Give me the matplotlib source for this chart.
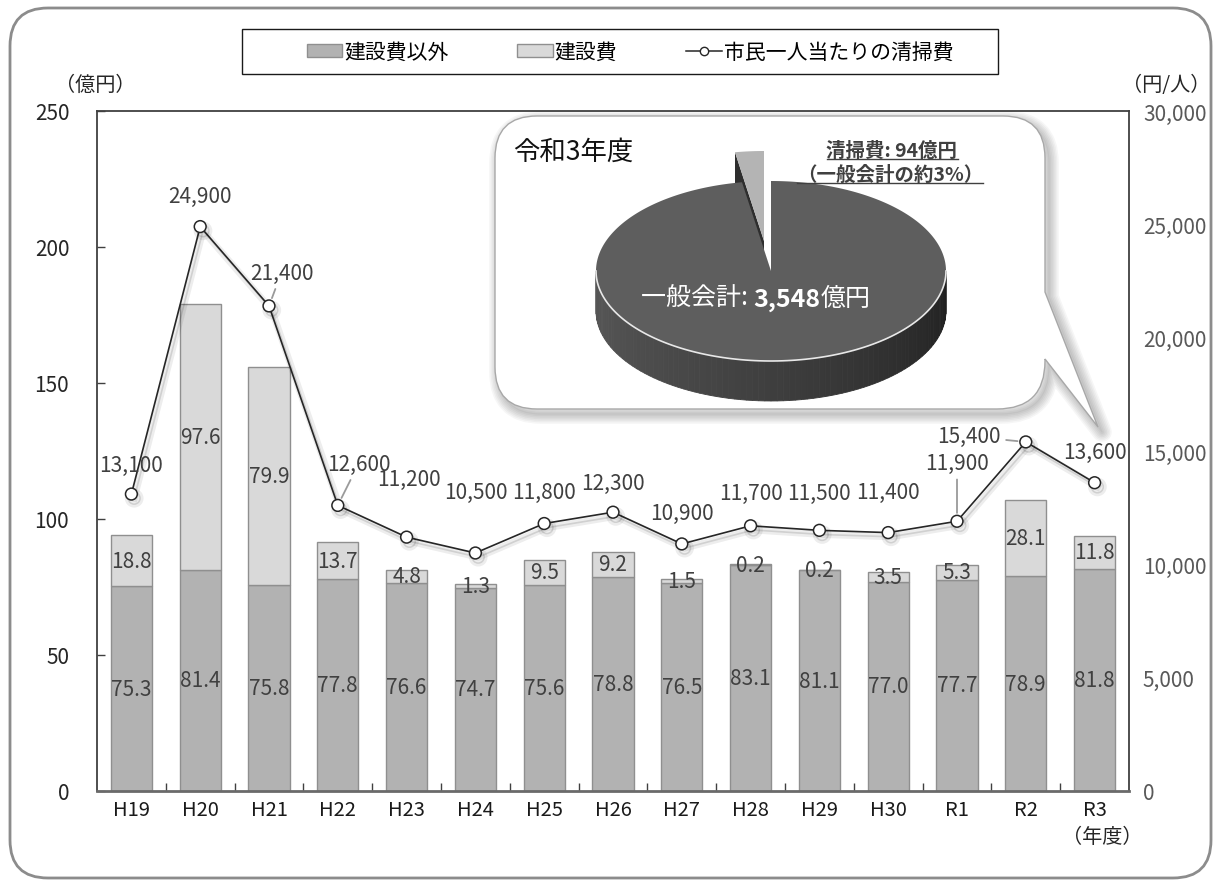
import numpy as np
import matplotlib
matplotlib.use('Agg')
import matplotlib.pyplot as plt
import matplotlib.patheffects as pe
from matplotlib.path import Path
from matplotlib.patches import PathPatch, Polygon, Rectangle, Patch
from matplotlib.lines import Line2D
from matplotlib.ticker import FuncFormatter

plt.rcParams['font.family'] = ['Noto Sans CJK JP', 'DejaVu Sans']

#-------------------------------------------------------------------------------
# data
#-------------------------------------------------------------------------------
years = ['H19', 'H20', 'H21', 'H22', 'H23', 'H24', 'H25', 'H26', 'H27',
         'H28', 'H29', 'H30', 'R1', 'R2', 'R3']
other_cost = [75.3, 81.4, 75.8, 77.8, 76.6, 74.7, 75.6, 78.8, 76.5,
              83.1, 81.1, 77.0, 77.7, 78.9, 81.8]
construction = [18.8, 97.6, 79.9, 13.7, 4.8, 1.3, 9.5, 9.2, 1.5,
                0.2, 0.2, 3.5, 5.3, 28.1, 11.8]
per_capita = [13100, 24900, 21400, 12600, 11200, 10500, 11800, 12300, 10900,
              11700, 11500, 11400, 11900, 15400, 13600]

general_account = 3548   # 億円
cleaning_cost = 94       # 億円

# label offsets for the per-capita line (points), and which get a leader line
label_dx = [0, 0, 9, 15, 2, 0, 0, 0, 0, 0, 0, 0, 0, -41, 0]
label_dy = [21, 22, 24, 30, 42, 44, 23, 21, 22, 24, 27, 29, 42, 4, 22]
leader = [False, False, True, True, False, False, False, False, False,
          False, False, False, True, True, False]

W, H = 1219, 887
fig = plt.figure(figsize=(W / 100, H / 100), dpi=100)
fig.patch.set_facecolor('white')

ax = fig.add_axes([97 / W, 1 - 792 / H, (1129 - 97) / W, (792 - 112) / H])
ax2 = ax.twinx()

x = np.arange(len(years))
dark_bar = '#b2b2b2'
light_bar = '#d9d9d9'
txt = '#404040'

b1 = ax.bar(x, other_cost, 0.6, color=dark_bar, edgecolor='#8f8f8f', lw=1, zorder=2)
b2 = ax.bar(x, construction, 0.6, bottom=other_cost, color=light_bar,
            edgecolor='#8f8f8f', lw=1, zorder=2)
ax.bar_label(b1, fmt='%.1f', label_type='center', color=txt, fontsize=15)
ax.bar_label(b2, fmt='%.1f', label_type='center', color=txt, fontsize=15)

ax.set_xlim(-0.5, len(years) - 0.5)
ax.set_ylim(0, 250)
ax.set_yticks(np.arange(0, 251, 50))
ax.set_xticks(x)
ax.set_xticklabels(years)
ax.set_xticks(np.arange(0.5, len(years) - 1, 1), minor=True)
ax.tick_params(axis='x', which='major', length=0, pad=6, labelsize=14.5, colors='#1a1a1a')
ax.tick_params(axis='x', which='minor', direction='in', length=6, width=1, color='#404040')
ax.tick_params(axis='y', direction='in', length=6, width=1, color='#404040',
               pad=20, labelsize=15, labelcolor='#262626')
for s in ['left', 'top', 'right']:
    ax.spines[s].set_color('#404040')
    ax.spines[s].set_linewidth(1.3)
ax.spines['bottom'].set_color('#6a6a6a')
ax.spines['bottom'].set_linewidth(2)

# per-capita cleaning cost line
shadow = [pe.SimpleLineShadow(offset=(2, -3), alpha=0.07, linewidth=5),
          pe.SimpleLineShadow(offset=(2, -3), alpha=0.12), pe.Normal()]
ax2.plot(x, per_capita, color='#262626', lw=1.2, marker='o', ms=8.5,
         mfc='white', mec='#262626', mew=1.1, path_effects=shadow, zorder=3)
ax2.set_ylim(0, 30000)
ax2.set_yticks(np.arange(0, 30001, 5000))
ax2.yaxis.set_major_formatter(FuncFormatter(lambda v, p: f'{int(v):,}'))
ax2.tick_params(axis='y', length=0, pad=10, labelsize=15, labelcolor='#595959')
for s in ax2.spines.values():
    s.set_visible(False)

for i, v in enumerate(per_capita):
    props = None
    if leader[i]:
        props = dict(arrowstyle='-', color='#9a9a9a', lw=1.3, shrinkA=2, shrinkB=6)
    ax2.annotate(f'{v:,}', xy=(x[i], v), xytext=(label_dx[i], label_dy[i]),
                 textcoords='offset points', ha='center', va='center',
                 fontsize=15, color=txt, arrowprops=props)

#-------------------------------------------------------------------------------
# overlay in pixel coordinates: frame, legend box, callout with pie
#-------------------------------------------------------------------------------
ov = fig.add_axes([0, 0, 1, 1], zorder=5)
ov.set_xlim(0, W)
ov.set_ylim(H, 0)
ov.axis('off')
ov.patch.set_alpha(0)


def rounded_path(corners, radii):
    verts, codes = [], []
    n = len(corners)
    for i in range(n):
        p = np.array(corners[i], float)
        a = np.array(corners[i - 1], float)
        b = np.array(corners[(i + 1) % n], float)
        u = (a - p) / np.linalg.norm(a - p)
        w = (b - p) / np.linalg.norm(b - p)
        verts += [p + u * radii[i], p, p + w * radii[i]]
        codes += [Path.LINETO, Path.CURVE3, Path.CURVE3]
    codes[0] = Path.MOVETO
    verts.append(verts[0])
    codes.append(Path.CLOSEPOLY)
    return Path(verts, codes)


# outer frame
ov.add_patch(PathPatch(rounded_path([(10, 9), (1211, 9), (1211, 879), (10, 879)],
                                    [38, 38, 38, 38]),
                       fc='none', ec='#8c8c8c', lw=2))

# legend
ov.add_patch(Rectangle((242, 30), 756, 45, fc='white', ec='#1a1a1a', lw=1))
handles = [Patch(fc=dark_bar, ec='#8f8f8f'), Patch(fc=light_bar, ec='#8f8f8f'),
           Line2D([], [], color='#262626', lw=1.1, marker='o', ms=6,
                  mfc='white', mec='#262626')]
fig.legend(handles, ['建設費以外', '建設費', '市民一人当たりの清掃費'],
           loc='center', bbox_to_anchor=(630 / W, 1 - 53 / H), ncol=3,
           frameon=False, prop={'size': 15, 'weight': 'normal'},
           handlelength=1.7, handleheight=0.55,
           handletextpad=0.1, columnspacing=3.3)

# unit labels
ov.text(95, 85, '（億円）', ha='center', va='center', fontsize=14.5, color='#262626')
ov.text(1166, 85, '（円/人）', ha='center', va='center', fontsize=14.5, color='#262626')
ov.text(1102, 838, '（年度）', ha='center', va='center', fontsize=14.5, color='#262626')

# callout box with tail
callout = rounded_path([(495, 117), (1045, 117), (1045, 293), (1098, 428),
                        (1045, 360), (1045, 410), (495, 410)],
                       [42, 42, 0, 0, 0, 48, 42])
for k in range(7):
    sh = callout.transformed(matplotlib.transforms.Affine2D().translate(4, 5))
    ov.add_patch(PathPatch(sh, fc='none', ec='black', lw=1 + 2.2 * k, alpha=0.035,
                           joinstyle='round', zorder=1))
ov.add_patch(PathPatch(callout, fc='white', ec='#a8a8a8', lw=1, zorder=2))

ov.text(513, 152, '令和3年度', ha='left', va='center', fontsize=19, color='#111111', zorder=6)

# 3D pie
cx, cy, rx, ry, depth = 771, 272, 175, 90, 40
sweep = 360 * cleaning_cost / general_account


def ell(t_deg, dx=0, dy=0):
    t = np.radians(t_deg)
    return np.column_stack([cx + dx + rx * np.cos(t), cy + dy - ry * np.sin(t)])


# exploded cleaning-cost wedge (behind the main body)
wdx, wdy = -7, -30
tw = np.linspace(90, 90 + sweep, 20)
edge = ell(np.array([90 + sweep]), wdx, wdy)[0]
c_w = np.array([cx + wdx, cy + wdy])
ov.add_patch(Polygon([c_w, edge, edge + [0, depth], c_w + [0, depth]],
                     fc='#2e2e2e', ec='none', zorder=3))
ov.add_patch(Polygon(np.vstack([c_w, ell(tw, wdx, wdy)]), fc='#b4b4b4',
                     ec='none', zorder=3))

# side wall with shading
ts = np.linspace(180, 360, 91)
for t1, t2 in zip(ts[:-1], ts[1:]):
    f = (t1 - 180) / 180
    g = 0.34 - 0.22 * f ** 1.2
    p = ell(np.array([t1, t2]))
    ov.add_patch(Polygon([p[0], p[1], p[1] + [0, depth], p[0] + [0, depth]],
                         fc=(g, g, g), ec=(g, g, g), lw=0.6, zorder=4))
# top face of the general-account slice
tm = np.linspace(90 + sweep, 450, 300)
ov.add_patch(Polygon(np.vstack([[cx, cy], ell(tm)]), fc='#5e5e5e', ec='none', zorder=5))
front = ell(np.linspace(180, 360, 120))
ov.plot(front[:, 0], front[:, 1], color='#e8e8e8', lw=1.2, zorder=5)

# pie value text
t1 = ov.text(641, 299, '一般会計: ', ha='left', va='center', fontsize=18,
             color='white', zorder=6)
t2 = ov.annotate('3,548', xy=(1, 0), xycoords=t1, ha='left', va='bottom',
                 fontsize=18, fontweight='bold', color='white', zorder=6)
ov.annotate('億円', xy=(1, 0), xycoords=t2, ha='left', va='bottom',
            fontsize=18, color='white', zorder=6)

n1 = ov.text(892, 151, f'清掃費: {cleaning_cost}億円', ha='center', va='center',
             fontsize=14, fontweight='bold', color=txt, zorder=6)
n2 = ov.text(890, 175, '（一般会計の約3%）', ha='center', va='center',
             fontsize=14, fontweight='bold', color=txt, zorder=6)

fig.canvas.draw()
r = fig.canvas.get_renderer()
for t in (n1, n2):
    bb = t.get_window_extent(r)
    yl = H - bb.y0 - 1
    ov.plot([bb.x0, bb.x1], [yl, yl], color=txt, lw=1, zorder=6)

fig.savefig('out.png', dpi=100)
